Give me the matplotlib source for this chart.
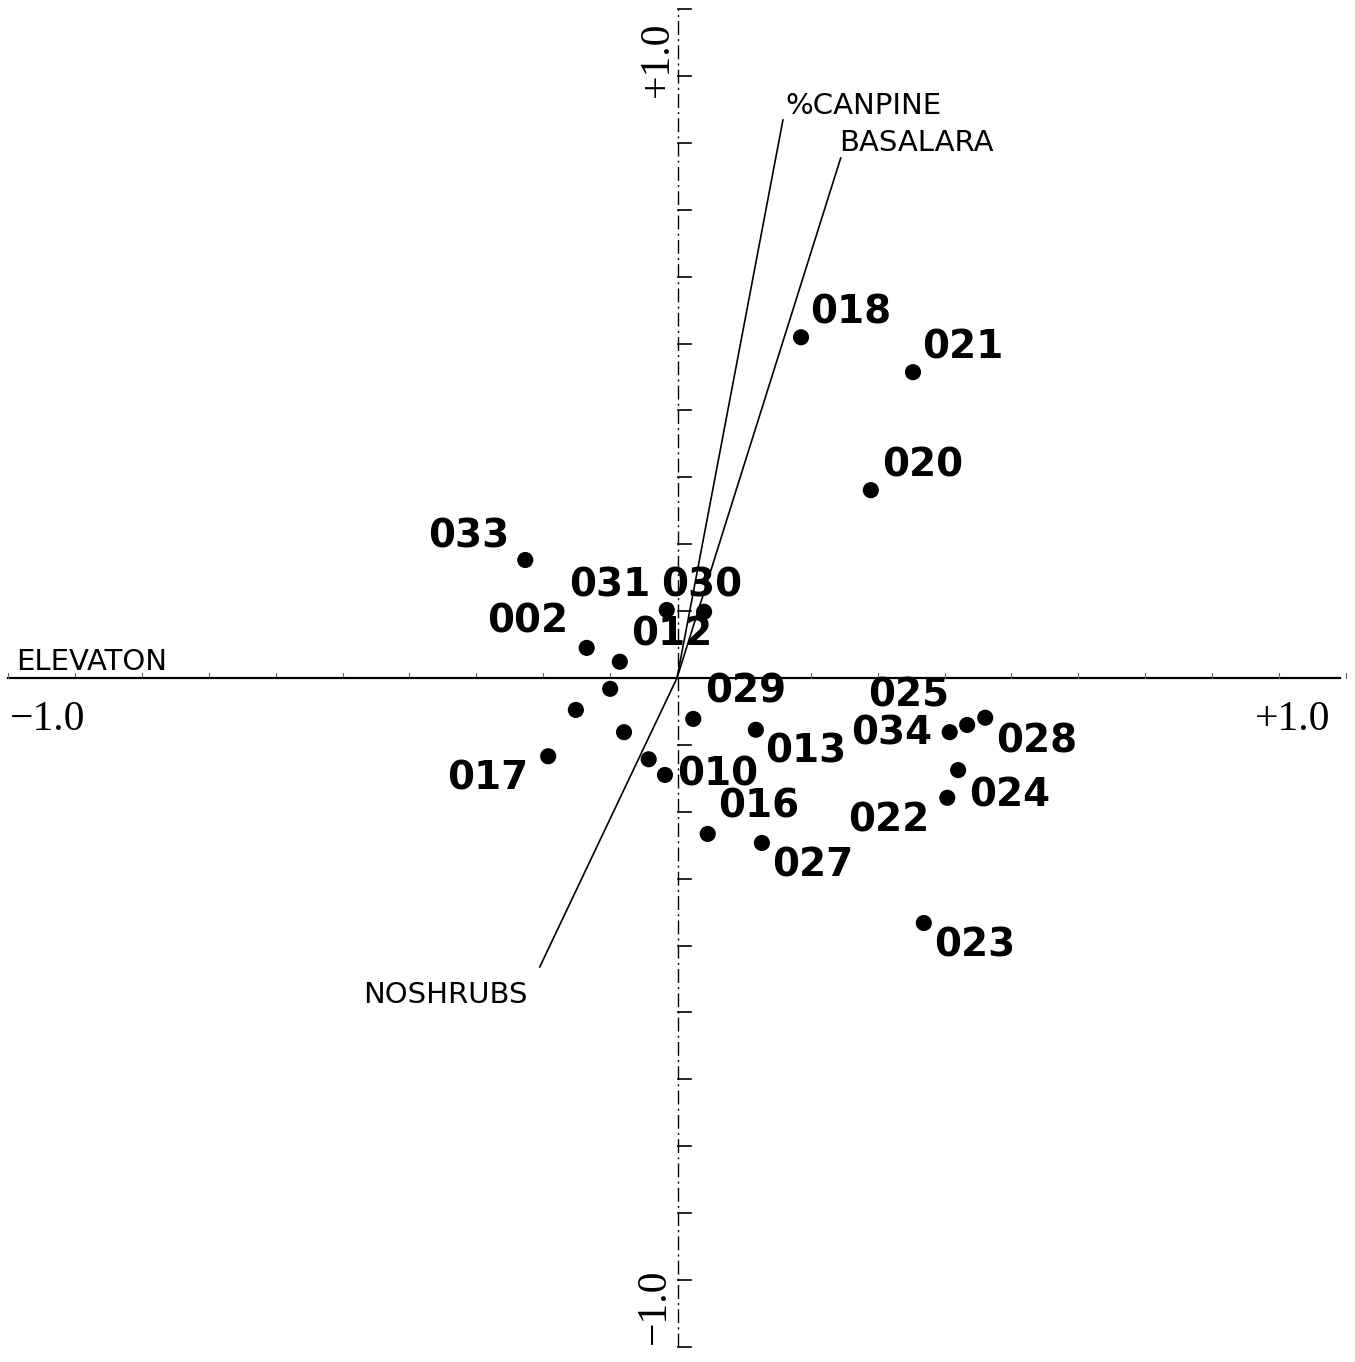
#coding:utf8
import numpy as np
import matplotlib
matplotlib.use('Agg')
import matplotlib.pyplot as plt

# site scores (axis 1, axis 2)
sites = ['018', '021', '020', '033', '031', '030', '002', '012',
         '', '', '', '017', '', '010', '029', '013',
         '034', '025', '028', '024', '022', '016', '027', '023']
site_x = [0.206, 0.392, 0.322, -0.252, -0.017, 0.045, -0.150, -0.095,
          -0.111, -0.168, -0.088, -0.214, -0.047, -0.020, 0.027, 0.131,
          0.453, 0.482, 0.512, 0.467, 0.449, 0.051, 0.141, 0.410]
site_y = [0.566, 0.508, 0.312, 0.196, 0.113, 0.110, 0.050, 0.027,
          -0.018, -0.053, -0.090, -0.130, -0.135, -0.161, -0.068, -0.086,
          -0.090, -0.078, -0.066, -0.153, -0.199, -0.259, -0.274, -0.407]

# environmental vectors (tips)
env = ['%CANPINE', 'BASALARA', 'NOSHRUBS', 'ELEVATON']
env_x = [0.176, 0.272, -0.228, -1.108]
env_y = [0.927, 0.864, -0.480, 0.0]

# label offsets in pixels (dx, dy), up is positive
lab_off = {'018': (50, 25), '021': (50, 25), '020': (52, 25), '033': (-57, 24),
           '031': (-57, 24), '030': (-2, 26), '002': (-59, 26), '012': (52, 27),
           '029': (52, 27), '025': (-58, 29), '034': (-58, -1), '028': (51, -24),
           '013': (50, -22), '017': (-60, -22), '010': (53, 0), '024': (52, -25),
           '016': (51, 27), '022': (-59, -23), '027': (51, -23), '023': (51, -22)}

# where the vector names sit (x, y, ha, va)
env_lab = {'%CANPINE': (0.180, 0.950, 'left', 'center'),
           'BASALARA': (0.270, 0.888, 'left', 'center'),
           'NOSHRUBS': (-0.384, -0.527, 'center', 'center'),
           'ELEVATON': (-1.097, 0.027, 'left', 'center')}

W, H = 1355, 1362
fig = plt.figure(figsize=(W/100., H/100.), dpi=100)
ax = fig.add_axes([0, 0, 1, 1])
ax.set_axis_off()
ax.set_xlim(-677/602., (W-677)/602.)
ax.set_ylim(-(H-678)/602., 678/602.)

lim = 10/9.
ticks = np.arange(-10, 11)/9.

# x axis, solid with tiny ticks above
ax.plot([-lim, 1.101], [0, 0], color='black', lw=1.6, zorder=2)
for t in ticks:
    ax.plot([t, t], [0, 0.009], color='0.4', lw=0.8, zorder=2)

# y axis, dash-dot with ticks to the right
ax.plot([0.002, 0.002], [-lim, lim], color='black', lw=1.0,
        linestyle=(0, (10, 3, 1.5, 3)), zorder=2)
for t in ticks:
    if t == 0:
        continue
    ax.plot([0.002, 0.024], [t, t], color='black', lw=1.2, zorder=2)

# axis numbers
tfont = dict(family='Liberation Serif', size=30, color='black')
ax.text(-1.045, -0.070, u'\u22121.0', ha='center', va='center', **tfont)
ax.text(1.023, -0.070, '+1.0', ha='center', va='center', **tfont)
ax.text(-0.033, 1.027, '+1.0', ha='center', va='center', rotation=90, **tfont)
ax.text(-0.037, -1.043, u'\u22121.0', ha='center', va='center', rotation=90, **tfont)

# environmental vectors
for i in range(len(env)):
    ax.plot([0, env_x[i]], [0, env_y[i]], color='black', lw=1.2, zorder=3)
    lx, ly, ha, va = env_lab[env[i]]
    ax.text(lx, ly, env[i], ha=ha, va=va, family='DejaVu Sans', size=21,
            color='black', zorder=4)

# sites
ax.scatter(site_x, site_y, s=135, color='black', edgecolors='none', zorder=5)
for i in range(len(sites)):
    if not sites[i]:
        continue
    dx, dy = lab_off[sites[i]]
    ax.annotate(sites[i], (site_x[i], site_y[i]), xytext=(dx, dy),
                textcoords='offset pixels', ha='center', va='center',
                family='DejaVu Sans', weight='bold', size=28, color='black',
                zorder=6)

fig.savefig('out.png', dpi=100, facecolor='white')
